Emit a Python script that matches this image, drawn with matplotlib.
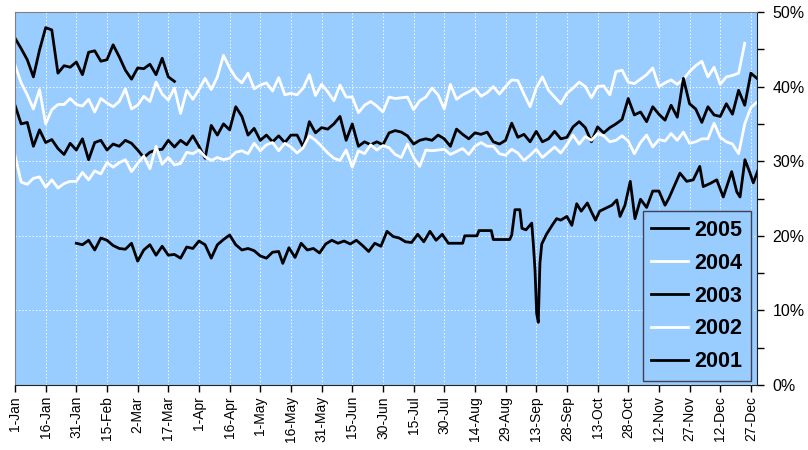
import matplotlib
matplotlib.use('Agg')
import matplotlib.pyplot as plt
import numpy as np
from matplotlib.ticker import FixedLocator, FuncFormatter

plt.rcParams['font.family'] = ['Liberation Sans', 'DejaVu Sans']

# day-of-year ticks, every 15 days
tick_days = list(range(0, 361, 15))
tick_labels = ['1-Jan', '16-Jan', '31-Jan', '15-Feb', '2-Mar', '17-Mar', '1-Apr',
               '16-Apr', '1-May', '16-May', '31-May', '15-Jun', '30-Jun', '15-Jul',
               '30-Jul', '14-Aug', '29-Aug', '13-Sep', '28-Sep', '13-Oct', '28-Oct',
               '12-Nov', '27-Nov', '12-Dec', '27-Dec']

# series sampled every 3 days from 1-Jan (values in %)
step = 3
v2005 = [46.5, 45.1, 43.6, 41.3, 44.9, 47.9, 47.6, 41.8, 42.8, 42.6, 43.3, 41.6,
         44.6, 44.8, 43.4, 43.6, 45.6, 44.0, 42.2, 41.0, 42.5, 42.4, 43.0, 41.6,
         43.8, 41.3, 40.7]

v2004 = [42.9, 40.5, 38.9, 37.0, 39.6, 35.0, 36.9, 37.6, 37.6, 38.4, 37.6, 37.4,
         38.3, 36.6, 38.4, 37.8, 37.3, 38.0, 39.7, 37.0, 37.5, 38.7, 38.0, 40.6,
         39.0, 38.2, 39.8, 36.4, 39.5, 38.3, 39.6, 41.1, 39.6, 41.3, 44.2, 42.5,
         41.2, 40.5, 41.8, 39.7, 40.2, 40.5, 39.4, 41.2, 38.9, 39.1, 38.9, 39.8,
         41.6, 38.8, 40.3, 39.3, 38.1, 40.2, 38.6, 38.6, 36.5, 37.5, 38.0, 37.4,
         36.6, 38.6, 38.4, 38.5, 38.6, 36.9, 38.1, 38.6, 39.8, 38.9, 37.0, 40.3,
         38.3, 38.9, 39.3, 39.8, 38.7, 39.2, 40.0, 39.0, 40.0, 40.9, 40.8, 39.0,
         37.3, 39.8, 41.3, 39.5, 38.6, 37.7, 39.1, 39.8, 40.6, 40.0, 38.5, 40.0,
         40.1, 38.9, 42.0, 42.2, 40.6, 40.4, 41.0, 41.6, 42.5, 40.0, 40.5, 40.9,
         40.3, 41.0, 42.0, 42.8, 43.4, 41.3, 42.6, 40.3, 41.3, 41.5, 41.8, 45.8]

v2003 = [37.5, 35.0, 35.2, 32.0, 34.2, 32.5, 32.9, 31.7, 30.9, 32.4, 31.5, 33.0,
         30.2, 32.5, 32.8, 31.5, 32.3, 32.0, 32.8, 32.4, 31.5, 30.5, 31.2, 31.5,
         31.6, 32.8, 31.9, 32.8, 32.2, 33.4, 32.0, 30.4, 34.8, 33.5, 35.0, 34.2,
         37.3, 36.0, 33.5, 34.4, 32.8, 33.5, 32.6, 33.4, 32.5, 33.5, 33.5, 31.9,
         35.3, 33.8, 34.5, 34.3, 35.0, 36.0, 32.8, 35.0, 32.0, 32.6, 32.2, 32.6,
         32.2, 33.8, 34.1, 33.9, 33.4, 32.3, 32.8, 33.0, 32.8, 33.5, 33.0, 32.0,
         34.3, 33.6, 33.0, 33.8, 33.6, 33.9, 32.6, 32.3, 32.8, 35.1, 33.2, 33.6,
         32.6, 34.0, 32.6, 33.0, 34.0, 33.0, 33.2, 34.6, 35.3, 34.5, 32.6, 34.6,
         33.8, 34.5, 35.0, 35.6, 38.4, 36.2, 36.6, 35.3, 37.3, 36.3, 35.5, 37.5,
         35.9, 41.1, 37.7, 37.0, 35.2, 37.3, 36.2, 36.0, 37.7, 36.3, 39.5, 37.5,
         41.8, 41.1]

v2002 = [30.8, 27.2, 26.9, 27.7, 27.9, 26.5, 27.5, 26.4, 27.0, 27.3, 27.3, 28.5,
         27.5, 28.7, 28.3, 29.8, 29.2, 29.8, 30.2, 28.6, 29.7, 30.7, 29.0, 32.0,
         29.6, 30.5, 29.5, 29.7, 31.2, 31.0, 31.5, 30.6, 30.1, 30.5, 30.2, 30.4,
         31.2, 31.4, 31.0, 32.4, 31.4, 32.2, 32.5, 31.4, 32.4, 31.9, 31.1, 31.8,
         33.4, 32.8, 32.0, 31.1, 30.4, 30.1, 31.5, 29.2, 31.4, 31.0, 32.2, 31.5,
         32.1, 31.8, 30.9, 30.5, 32.3, 30.5, 29.3, 31.5, 31.4, 31.5, 31.6, 30.9,
         31.3, 31.7, 30.9, 32.0, 32.5, 32.0, 32.0, 31.0, 30.8, 31.6, 31.1, 30.1,
         30.8, 31.6, 30.5, 31.2, 31.9, 31.1, 32.2, 33.5, 32.3, 33.3, 32.8, 33.7,
         33.4, 32.6, 32.8, 33.4, 32.7, 31.0, 32.5, 33.5, 31.9, 32.9, 32.7, 33.7,
         32.8, 33.9, 32.4, 32.6, 33.0, 33.0, 35.1, 33.2, 32.6, 32.3, 31.0, 35.0,
         37.2, 37.9]

# 2001 starts end of January, irregular days around the September dip
d2001 = [30, 33, 36, 39, 42, 45, 48, 51, 54, 57, 60, 63, 66, 69, 72, 75, 78, 81,
         84, 87, 90, 93, 96, 99, 102, 105, 108, 111, 114, 117, 120, 123, 126, 129,
         131, 134, 137, 140, 143, 146, 149, 152, 155, 158, 161, 164, 167, 170, 173,
         176, 179, 182, 185, 188, 191, 194, 197, 200, 203, 206, 209, 212, 219, 220,
         226, 227, 233, 234, 242, 243, 244.6, 247, 248, 250, 252.8, 253.6, 254.4,
         255.2, 256, 256.8, 257.7, 260, 263, 265, 267, 270, 272.4, 274.8, 277, 280,
         282, 284, 286, 289, 292, 294.4, 296, 298.4, 301, 303.3, 306, 309, 312, 315,
         318, 320, 323.7, 325.3, 328.6, 331.8, 335, 336.7, 340, 343.3, 346.5, 348.2,
         350.6, 353.1, 354.7, 357.1, 359.6, 361.2, 363.5]
v2001 = [19.0, 18.8, 19.4, 18.1, 19.7, 19.4, 18.7, 18.3, 18.2, 19.0, 16.6, 18.1,
         18.8, 17.4, 18.6, 17.4, 17.5, 17.0, 18.5, 18.3, 19.3, 18.8, 17.0, 18.8,
         19.5, 20.1, 18.8, 18.1, 18.3, 18.0, 17.3, 17.0, 17.8, 17.9, 16.3, 18.4,
         17.1, 19.0, 18.1, 18.3, 17.7, 18.9, 19.4, 19.0, 19.3, 18.9, 19.4, 18.7,
         17.9, 19.0, 18.6, 20.6, 19.9, 19.7, 19.2, 19.1, 20.2, 19.2, 20.6, 19.4,
         20.2, 19.0, 19.0, 20.0, 20.0, 20.7, 20.7, 19.5, 19.5, 20.1, 23.5, 23.5,
         21.0, 20.8, 21.7, 18.8, 15.4, 9.6, 8.4, 16.3, 18.9, 20.2, 21.5, 22.3,
         22.1, 22.6, 21.4, 24.3, 23.3, 24.4, 23.2, 22.1, 23.3, 23.7, 24.1, 24.8,
         22.6, 24.1, 27.3, 22.3, 24.9, 23.8, 26.0, 26.0, 24.1, 25.1, 27.4, 28.4,
         27.3, 27.5, 29.3, 26.6, 27.0, 27.5, 25.2, 26.6, 28.6, 25.9, 25.2, 30.2,
         28.4, 27.1, 28.8]

years = ['2005', '2004', '2003', '2002', '2001']
colors = ['black', 'white', 'black', 'white', 'black']

series = {
    '2005': (np.arange(len(v2005)) * step, v2005),
    '2004': (np.arange(len(v2004)) * step, v2004),
    '2003': (np.arange(len(v2003)) * step, v2003),
    '2002': (np.arange(len(v2002)) * step, v2002),
    '2001': (d2001, v2001),
}

fig = plt.figure(figsize=(8.08, 4.5), dpi=100)
ax = fig.add_axes([15 / 808, 65 / 450, 742 / 808, 373 / 450])
ax.set_facecolor('#99CCFF')

for yr, c in zip(years, colors):
    x, y = series[yr]
    ax.plot(x, y, color=c, lw=2.0, label=yr, solid_joinstyle='round')

ax.set_xlim(0, 363)
ax.set_ylim(0, 50)

ax.set_xticks(tick_days)
ax.set_xticklabels(tick_labels, rotation=90, fontsize=10)
ax.tick_params(axis='x', direction='out', length=5, width=1, pad=3)

ax.yaxis.tick_right()
ax.set_yticks(range(0, 51, 10))
ax.yaxis.set_minor_locator(FixedLocator(range(5, 50, 10)))
ax.yaxis.set_major_formatter(FuncFormatter(lambda v, p: '%d%%' % v))
ax.tick_params(axis='y', which='both', direction='out', length=5, width=1,
               labelsize=11.5, pad=6)

ax.grid(True, which='major', color='#F4F8FF', linestyle=(0, (1.5, 2)), lw=0.7)
ax.set_axisbelow(True)

for side in ['left', 'top']:
    ax.spines[side].set_color('#808080')
for side in ['right', 'bottom']:
    ax.spines[side].set_color('#222222')

leg = ax.legend(loc='lower right', bbox_to_anchor=(0.992, 0.011), fancybox=False,
                framealpha=1, facecolor='#99CCFF', edgecolor='#404050',
                prop={'weight': 'bold', 'size': 15.5}, handlelength=1.7,
                handletextpad=0.3, labelspacing=0.55, borderpad=0.4,
                borderaxespad=0)
for h in leg.get_lines():
    h.set_linewidth(2.0)

fig.savefig('out.png', dpi=100)
